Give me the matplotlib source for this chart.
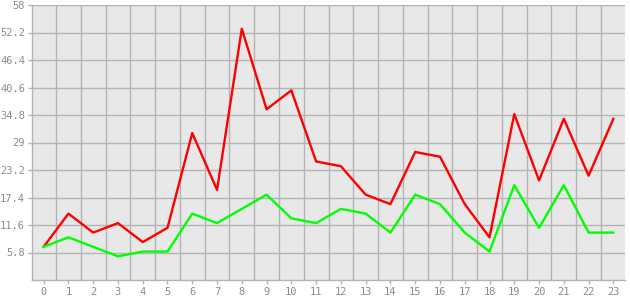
import numpy as np
import matplotlib
matplotlib.use("Agg")
import matplotlib.pyplot as plt

hours = list(range(24))
red_vals = [7, 14, 10, 12, 8, 11, 31, 19, 53, 36, 40, 25, 24, 18, 16, 27, 26, 16, 9, 35, 21, 34, 22, 34]
green_vals = [7, 9, 7, 5, 6, 6, 14, 12, 15, 18, 13, 12, 15, 14, 10, 18, 16, 10, 6, 20, 11, 20, 10, 10]
yticks = [5.8, 11.6, 17.4, 23.2, 29, 34.8, 40.6, 46.4, 52.2, 58]
ytick_labels = ["5.8", "11.6", "17.4", "23.2", "29", "34.8", "40.6", "46.4", "52.2", "58"]

grid_col = "#b4b4b4"
text_col = "#8c8c8c"

fig = plt.figure(figsize=(6.3, 3.0), dpi=100)
ax = fig.add_axes([32/630, 20/300, 593/630, 275/300])
ax.set_facecolor("#e8e8e8")

# vertical grid between categories, horizontal grid at tick values
for xv in np.arange(-0.5, 24, 1.0):
    ax.axvline(xv, color=grid_col, lw=1, zorder=1)
for yv in yticks:
    ax.axhline(yv, color=grid_col, lw=1, zorder=1)

ax.plot(hours, red_vals, color="#ff0000", lw=1.7, zorder=3)
ax.plot(hours, green_vals, color="#00ff00", lw=1.7, zorder=3)

ax.set_xlim(-0.47, 23.47)
ax.set_ylim(0, 58)
ax.set_xticks(hours)
ax.set_xticklabels([str(h) for h in hours])
ax.set_yticks(yticks)
ax.set_yticklabels(ytick_labels)

for s in ["top", "right"]:
    ax.spines[s].set_visible(False)
for s in ["left", "bottom"]:
    ax.spines[s].set_color(grid_col)
    ax.spines[s].set_linewidth(1)

ax.tick_params(axis="both", colors=grid_col, length=3, width=1, labelcolor=text_col,
               labelsize=7.5, pad=2)
for lab in ax.get_xticklabels() + ax.get_yticklabels():
    lab.set_family("DejaVu Sans Mono")

fig.savefig("out.png", dpi=100, facecolor="white")
